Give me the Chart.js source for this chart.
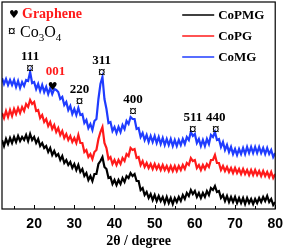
<!DOCTYPE html>
<html>
<head>
<meta charset="utf-8">
<script src="https://cdn.jsdelivr.net/npm/chart.js@4.4.1/dist/chart.umd.min.js"></script>
<style>
  html, body { margin: 0; padding: 0; background: #fff; }
  #wrap { width: 290px; height: 251px; }
</style>
</head>
<body>
<div id="wrap"><canvas id="xrd"></canvas></div>
<script>
// 2theta grid of the scans (degrees)
const twoThetaStart = 12;
const twoThetaStep = 0.5;

// intensities (a.u., offset for stacking)
const coPMG = [69,63,70,65,71,66,72,67,73,68,72,69,74,68,75,69,72,66,70,63,
  66,61,63,57,61,54,58,53,55,49,53,46,49,44,47,41,45,39,44,37,
  40,33,36,29,33,28,35,35,45,48,52,42,40,31,32,25,29,24,29,25,
  31,27,33,31,36,33,35,28,28,19,21,14,17,11,15,9,14,8,13,8,
  12,6,12,6,11,5,11,7,12,8,14,10,16,13,19,15,18,12,16,11,
  16,12,18,14,21,19,23,17,18,11,14,8,13,7,12,7,12,6,11,6,
  11,5,11,6,10,5,10,6,11,7,12,8,13,7,10,4,7];
const coPG = [96,91,98,92,99,93,100,95,101,96,102,98,105,102,109,105,107,98,99,91,
  94,87,90,83,87,80,84,77,81,74,78,71,75,69,73,67,71,66,74,66,
  66,57,59,52,55,50,57,59,70,77,82,66,61,50,52,45,49,44,49,45,
  51,48,55,53,61,59,60,51,52,44,48,42,46,41,45,40,45,40,44,39,
  44,39,43,38,43,38,43,38,43,39,44,40,46,44,51,48,49,41,44,39,
  44,40,45,42,49,49,54,46,46,39,43,38,42,37,41,36,41,36,40,35,
  40,35,39,34,39,34,39,34,38,33,38,33,37,32,37,31,35];
const coMG = [131,125,130,124,129,124,129,122,128,121,127,123,129,128,137,126,127,120,125,118,
  124,117,122,115,121,115,120,119,117,110,112,104,107,99,103,95,100,94,101,94,
  95,86,89,81,85,79,88,90,110,125,132,110,100,86,87,78,82,76,82,77,
  84,80,88,85,92,90,90,80,81,72,76,69,74,67,73,67,73,66,72,65,
  71,64,70,64,70,63,69,63,69,64,70,65,72,69,77,73,75,66,70,63,
  69,63,70,65,74,72,77,69,70,62,67,59,64,57,62,55,60,54,60,55,
  61,55,62,56,62,56,62,56,62,56,61,55,61,55,59,52,56];

const seriesNames = ['CoPMG', 'CoPG', 'CoMG'];
const xTicks = [20, 30, 40, 50, 60, 70, 80];
const xMinorTicks = [15, 25, 35, 45, 55, 65, 75];

// reflections
const co3o4Labels = ['111', '220', '311', '400', '511', '440'];
const co3o4Angles = [19.0, 31.3, 36.8, 44.6, 59.5, 65.2];
const co3o4Heights = [140, 107, 136, 97, 79, 79];
const grapheneLabels = ['001'];
const grapheneAngles = [24.6];
const grapheneHeights = [122];

const colors = ['#000000', '#ff1a1a', '#1f3cff'];
const serif = '"Liberation Serif", "Times New Roman", serif';

function toPoints(arr) {
  return arr.map((v, i) => ({ x: twoThetaStart + i * twoThetaStep, y: v }));
}

const decor = {
  id: 'decor',
  afterDatasetsDraw(chart) {
    const ctx = chart.ctx;
    const a = chart.chartArea;
    const xs = chart.scales.x, ys = chart.scales.y;
    ctx.save();
    // frame
    ctx.strokeStyle = '#000';
    ctx.lineWidth = 1.2;
    ctx.strokeRect(a.left, a.top, a.right - a.left, a.bottom - a.top);
    // inward ticks on the bottom axis
    ctx.beginPath();
    xTicks.forEach(v => {
      const px = Math.round(xs.getPixelForValue(v)) + 0.5;
      ctx.moveTo(px, a.bottom); ctx.lineTo(px, a.bottom - 4);
    });
    xMinorTicks.forEach(v => {
      const px = Math.round(xs.getPixelForValue(v)) + 0.5;
      ctx.moveTo(px, a.bottom); ctx.lineTo(px, a.bottom - 3);
    });
    ctx.lineWidth = 1;
    ctx.stroke();

    // Co3O4 reflections
    ctx.textAlign = 'center';
    ctx.textBaseline = 'middle';
    co3o4Labels.forEach((lab, i) => {
      const px = xs.getPixelForValue(co3o4Angles[i]);
      const py = ys.getPixelForValue(co3o4Heights[i]);
      ctx.fillStyle = '#000';
      ctx.font = 'bold 15px ' + serif;
      ctx.fillText('\u00a4', px, py);
      ctx.font = 'bold 13px ' + serif;
      ctx.fillText(lab, px, py - 12);
    });
    // graphene reflection
    grapheneLabels.forEach((lab, i) => {
      const px = xs.getPixelForValue(grapheneAngles[i]);
      const py = ys.getPixelForValue(grapheneHeights[i]);
      ctx.fillStyle = '#000';
      ctx.font = '11px "DejaVu Sans", sans-serif';
      ctx.fillText('\u2665', px, py);
      ctx.fillStyle = '#ff1a1a';
      ctx.font = 'bold 13px ' + serif;
      ctx.fillText(lab, px + 3, py - 15);
    });

    // top-left key
    ctx.textAlign = 'left';
    ctx.fillStyle = '#000';
    ctx.font = '11px "DejaVu Sans", sans-serif';
    ctx.fillText('\u2665', a.left + 7, a.top + 13);
    ctx.fillStyle = '#ff1a1a';
    ctx.font = 'bold 14px ' + serif;
    ctx.fillText('Graphene', a.left + 20, a.top + 12);
    ctx.fillStyle = '#000';
    ctx.font = 'bold 15px ' + serif;
    ctx.fillText('\u00a4', a.left + 6, a.top + 30);
    let tx = a.left + 18;
    const baseY = a.top + 35;
    ctx.textBaseline = 'alphabetic';
    [['Co', 16, 0], ['3', 11, 4], ['O', 16, 0], ['4', 11, 4]].forEach(p => {
      ctx.font = p[1] + 'px ' + serif;
      ctx.fillText(p[0], tx, baseY + p[2]);
      tx += ctx.measureText(p[0]).width;
    });

    // series legend, top right
    ctx.textBaseline = 'middle';
    ctx.font = 'bold 13px ' + serif;
    chart.data.datasets.forEach((ds, i) => {
      const y = a.top + 13 + i * 21;
      ctx.strokeStyle = ds.borderColor;
      ctx.lineWidth = 1.3;
      ctx.beginPath();
      ctx.moveTo(a.right - 93, y); ctx.lineTo(a.right - 61, y);
      ctx.stroke();
      ctx.fillStyle = '#000';
      ctx.fillText(ds.label, a.right - 57, y + 1);
    });
    ctx.restore();
  }
};

new Chart(document.getElementById('xrd'), {
  type: 'line',
  data: {
    datasets: [coPMG, coPG, coMG].map((arr, i) => ({
      label: seriesNames[i],
      data: toPoints(arr),
      borderColor: colors[i],
      borderWidth: 2.2,
      pointRadius: 0,
      tension: 0
    }))
  },
  options: {
    responsive: true,
    maintainAspectRatio: false,
    animation: false,
    layout: { padding: { left: 2, top: 2, right: 8, bottom: 0 } },
    plugins: { legend: { display: false }, tooltip: { enabled: false } },
    scales: {
      x: {
        type: 'linear',
        min: 12,
        max: 80,
        afterBuildTicks: s => { s.ticks = xTicks.map(v => ({ value: v })); },
        afterFit: s => { s.height = 42; },
        grid: { display: false, drawTicks: false },
        border: { display: false },
        ticks: {
          padding: 7,
          color: '#000',
          font: { family: '"Liberation Sans", Arial, sans-serif', size: 14, weight: 'bold' }
        },
        title: {
          display: true,
          text: '2\u03b8 / degree',
          color: '#000',
          padding: { top: 0, bottom: 1 },
          font: { family: serif, size: 14, weight: 'bold' }
        }
      },
      y: { display: false, min: 0, max: 207 }
    }
  },
  plugins: [decor]
});
</script>
</body>
</html>
